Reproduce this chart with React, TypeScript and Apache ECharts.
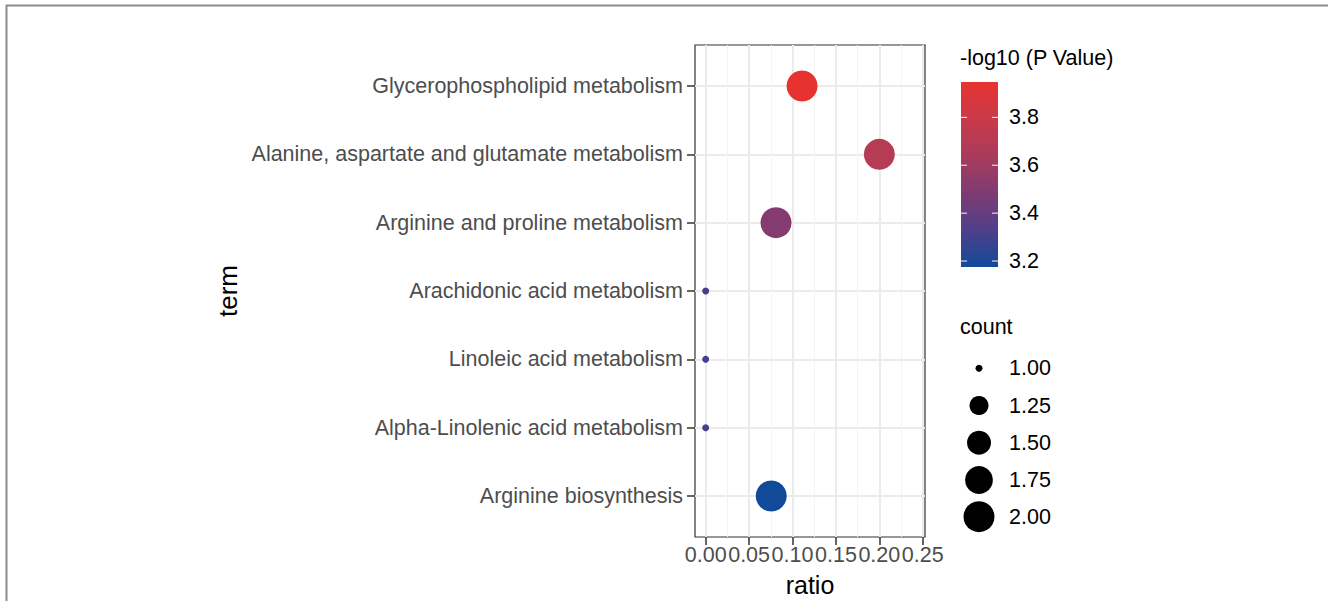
import React, { useEffect, useRef } from "react";
import * as echarts from "echarts";

// ---- data (top to bottom) ----
const terms = [
  "Glycerophospholipid metabolism",
  "Alanine, aspartate and glutamate metabolism",
  "Arginine and proline metabolism",
  "Arachidonic acid metabolism",
  "Linoleic acid metabolism",
  "Alpha-Linolenic acid metabolism",
  "Arginine biosynthesis",
];
const ratios = [0.111, 0.2, 0.081, 0.0, 0.0, 0.0, 0.0755];
const negLogP = [3.948, 3.7, 3.5, 3.3, 3.3, 3.3, 3.175];
const counts = [2, 2, 2, 1, 1, 1, 2];

const xTicks = [0, 0.05, 0.1, 0.15, 0.2, 0.25];
const xMinorTicks = [0.025, 0.075, 0.125, 0.175, 0.225];
const colorTicks = [3.2, 3.4, 3.6, 3.8];
const sizeTicks = [1.0, 1.25, 1.5, 1.75, 2.0];

const pMin = 3.175;
const pMax = 3.948;
const countMin = 1;
const countMax = 2;
const colorStops = ["#124a9a", "#4f3f8a", "#7f3b72", "#a93b5c", "#c93a4a", "#e7332f"];

const sizeOf = (c: number) => 7 + 24 * Math.sqrt((c - countMin) / (countMax - countMin));

export default function App() {
  const ref = useRef<HTMLDivElement>(null);

  useEffect(() => {
    document.body.style.margin = "0";
    if (!ref.current) return;
    const chart = echarts.init(ref.current, null, { renderer: "svg", width: 1328, height: 601 });

    const font = "Liberation Sans, Arial, sans-serif";
    const data = terms.map((t, i) => [ratios[i], i, negLogP[i], counts[i]]);

    // colorbar geometry
    const cbX = 961, cbY = 82, cbW = 37, cbH = 185;
    const cbYOf = (v: number) => cbY + cbH - ((v - pMin) / (pMax - pMin)) * cbH;
    const gradStops = colorStops.map((c, i) => ({ offset: i / (colorStops.length - 1), color: c }));

    const graphics: any[] = [
      {
        type: "polyline",
        shape: { points: [[6.5, 601], [6.5, 5.5], [1328, 5.5]] },
        style: { stroke: "#8c8c8c", lineWidth: 2, fill: null },
        silent: true,
      },
      {
        type: "text",
        x: 960, y: 58,
        style: { text: "-log10 (P Value)", font: `21.5px ${font}`, fill: "#000", verticalAlign: "middle" },
      },
      {
        type: "rect",
        shape: { x: cbX, y: cbY, width: cbW, height: cbH },
        style: {
          fill: new echarts.graphic.LinearGradient(0, 1, 0, 0, gradStops),
        },
      },
      {
        type: "text",
        x: 960, y: 327,
        style: { text: "count", font: `21.5px ${font}`, fill: "#000", verticalAlign: "middle" },
      },
    ];
    colorTicks.forEach((v) => {
      const y = cbYOf(v);
      graphics.push({
        type: "line",
        shape: { x1: cbX, y1: y, x2: cbX + 6, y2: y },
        style: { stroke: "#ffffff", lineWidth: 1.2, opacity: 0.8 },
      });
      graphics.push({
        type: "line",
        shape: { x1: cbX + cbW - 6, y1: y, x2: cbX + cbW, y2: y },
        style: { stroke: "#ffffff", lineWidth: 1.2, opacity: 0.8 },
      });
      graphics.push({
        type: "text",
        x: 1009, y,
        style: { text: v.toFixed(1), font: `21.5px ${font}`, fill: "#000", verticalAlign: "middle" },
      });
    });
    const sizeRowY = [368.3, 405.5, 442.7, 480, 516.7];
    sizeTicks.forEach((v, i) => {
      graphics.push({
        type: "circle",
        shape: { cx: 979, cy: sizeRowY[i], r: sizeOf(v) / 2 },
        style: { fill: "#000" },
      });
      graphics.push({
        type: "text",
        x: 1009, y: sizeRowY[i],
        style: { text: v.toFixed(2), font: `21.5px ${font}`, fill: "#000", verticalAlign: "middle" },
      });
    });

    chart.setOption({
      animation: false,
      backgroundColor: "#ffffff",
      textStyle: { fontFamily: font },
      grid: {
        left: 695, top: 45, right: 403, bottom: 64,
        show: true, borderColor: "#333333", borderWidth: 1.2, backgroundColor: "transparent",
        containLabel: false,
        outerBoundsMode: "none",
      },
      xAxis: [
        {
          type: "value",
          min: -0.0123, max: 0.2526,
          position: "bottom",
          name: "ratio", nameLocation: "middle", nameGap: 35,
          nameTextStyle: { fontSize: 25, color: "#000", fontFamily: font },
          axisLine: { show: false, onZero: false },
          axisTick: { show: true, length: 8, customValues: xTicks, lineStyle: { color: "#333", width: 1.5 } },
          axisLabel: {
            customValues: xTicks, margin: 7, fontSize: 21.5, color: "#4d4d4d", fontFamily: font,
            formatter: (v: number) => v.toFixed(2),
          },
          splitLine: { show: true, lineStyle: { color: "#ebebeb", width: 2 } },
          z: 1,
        },
        {
          type: "value",
          min: -0.0123, max: 0.2526,
          position: "bottom",
          axisLine: { show: false, onZero: false },
          axisTick: { show: false, customValues: xMinorTicks },
          axisLabel: { show: false, customValues: xMinorTicks },
          splitLine: { show: true, lineStyle: { color: "#f3f3f3", width: 1 } },
          z: 0,
        },
      ],
      yAxis: {
        type: "value",
        inverse: true,
        position: "left",
        min: -0.6, max: terms.length - 1 + 0.6,
        name: "term", nameLocation: "middle", nameGap: 454,
        nameTextStyle: { fontSize: 26, color: "#000", fontFamily: font },
        axisLine: { show: false, onZero: false },
        axisTick: { show: true, length: 8, customValues: terms.map((_, i) => i), lineStyle: { color: "#333", width: 1.5 } },
        axisLabel: {
          customValues: terms.map((_, i) => i), margin: 12, fontSize: 21.5, color: "#4d4d4d", fontFamily: font,
          formatter: (v: number) => terms[Math.round(v)] ?? "",
        },
        splitLine: { show: true, lineStyle: { color: "#ebebeb", width: 2 } },
      },
      visualMap: {
        show: false,
        type: "continuous",
        dimension: 2,
        min: pMin, max: pMax,
        seriesIndex: 0,
        inRange: { color: colorStops },
      },
      series: [
        {
          type: "scatter",
          xAxisIndex: 0,
          data,
          symbol: "circle",
          symbolSize: (d: number[]) => sizeOf(d[3]),
          itemStyle: { opacity: 1 },
          z: 5,
        },
      ],
      graphic: graphics,
    });

    return () => chart.dispose();
  }, []);

  return <div ref={ref} style={{ width: 1328, height: 601 }} />;
}
